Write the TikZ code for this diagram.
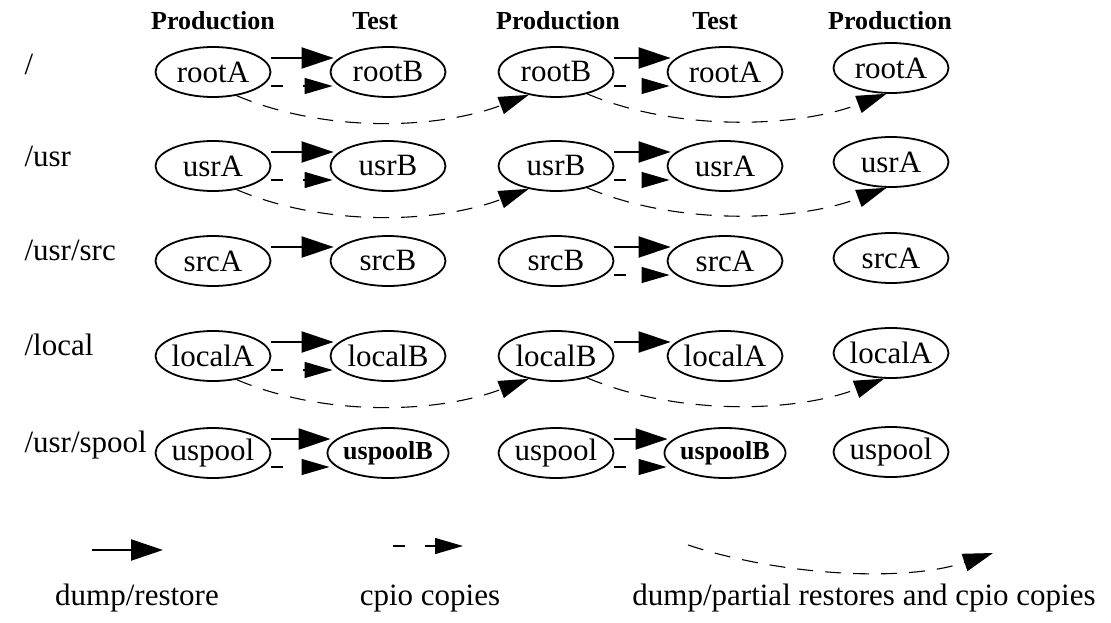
\documentclass[tikz,border=0pt]{standalone}
\usepackage{fontspec}
\setmainfont{Liberation Serif}
\usetikzlibrary{arrows.meta,shapes.geometric}

\tikzset{
  fsnode/.style={ellipse,draw,line width=1.8pt,minimum width=115pt,minimum height=50pt,inner xsep=-2pt,inner ysep=0pt,font=\fontsize{31}{31}\selectfont},
  fsbold/.style={fsnode,font=\fontsize{26}{26}\selectfont\bfseries},
  colhead/.style={font=\fontsize{26}{26}\selectfont\bfseries,anchor=base},
  rowlabel/.style={font=\fontsize{31}{31}\selectfont,anchor=base west},
  legtext/.style={font=\fontsize{31}{31}\selectfont,anchor=base},
  dumprestore/.style={line width=2.2pt,-{Triangle[length=32pt,width=21pt]}},
  cpiocopy/.style={line width=1.1pt,dash pattern=on 12pt off 20pt,-{Triangle[length=28pt,width=16pt]}},
  partial/.style={line width=1.1pt,dash pattern=on 16pt off 12pt,-{Triangle[length=30pt,width=18pt]}},
}

\begin{document}
\begin{tikzpicture}[x=1pt,y=-1pt]
		\useasboundingbox (0,0) rectangle (1111,623);
		% column heads
		\node[colhead] (h1) at (213,30) {Production};
		\node[colhead] (h2) at (375,30) {Test};
		\node[colhead] (h3) at (558,30) {Production};
		\node[colhead] (h4) at (715,30) {Test};
		\node[colhead] (h5) at (890,30) {Production};
		% file systems
		\node[rowlabel] (lroot) at (21,75) {/};
		\node[rowlabel] (lusr) at (21,166) {/usr};
		\node[rowlabel] (lsrc) at (21,260) {/usr/src};
		\node[rowlabel] (llocal) at (21,355) {/local};
		\node[rowlabel] (lspool) at (21,452) {/usr/spool};
		% /
		\node[fsnode] (root1) at (213,72) {rootA};
		\node[fsnode] (root2) at (388,72) {rootB};
		\node[fsnode] (root3) at (556,72) {rootB};
		\node[fsnode] (root4) at (725,72) {rootA};
		\node[fsnode] (root5) at (891,68) {rootA};
		% /usr
		\node[fsnode] (usr1) at (213,166) {usrA};
		\node[fsnode] (usr2) at (388,166) {usrB};
		\node[fsnode] (usr3) at (556,166) {usrB};
		\node[fsnode] (usr4) at (725,166) {usrA};
		\node[fsnode] (usr5) at (891,162) {usrA};
		% /usr/src
		\node[fsnode] (src1) at (213,261) {srcA};
		\node[fsnode] (src2) at (388,261) {srcB};
		\node[fsnode] (src3) at (556,261) {srcB};
		\node[fsnode] (src4) at (725,261) {srcA};
		\node[fsnode] (src5) at (891,258) {srcA};
		% /local
		\node[fsnode] (local1) at (213,356) {localA};
		\node[fsnode] (local2) at (388,356) {localB};
		\node[fsnode] (local3) at (556,356) {localB};
		\node[fsnode] (local4) at (725,356) {localA};
		\node[fsnode] (local5) at (891,353) {localA};
		% /usr/spool
		\node[fsnode] (spool1) at (213,453) {uspool};
		\node[fsbold] (spool2) at (388,453) {uspoolB};
		\node[fsnode] (spool3) at (556,453) {uspool};
		\node[fsbold] (spool4) at (725,453) {uspoolB};
		\node[fsnode] (spool5) at (891,452) {uspool};
		% dump/restore
		\draw[dumprestore] ([yshift=14pt]root1.east) -- ([yshift=14pt,xshift=4pt]root2.west);
		\draw[dumprestore] ([yshift=14pt]root3.east) -- ([yshift=14pt,xshift=4pt]root4.west);
		\draw[dumprestore] ([yshift=14pt]usr1.east) -- ([yshift=14pt,xshift=4pt]usr2.west);
		\draw[dumprestore] ([yshift=14pt]usr3.east) -- ([yshift=14pt,xshift=4pt]usr4.west);
		\draw[dumprestore] ([yshift=14pt]src1.east) -- ([yshift=14pt,xshift=4pt]src2.west);
		\draw[dumprestore] ([yshift=14pt]src3.east) -- ([yshift=14pt,xshift=4pt]src4.west);
		\draw[dumprestore] ([yshift=14pt]local1.east) -- ([yshift=14pt,xshift=4pt]local2.west);
		\draw[dumprestore] ([yshift=14pt]local3.east) -- ([yshift=14pt,xshift=4pt]local4.west);
		\draw[dumprestore] ([yshift=14pt]spool1.east) -- ([yshift=14pt,xshift=4pt]spool2.west);
		\draw[dumprestore] ([yshift=14pt]spool3.east) -- ([yshift=14pt,xshift=4pt]spool4.west);
		% cpio copies
		\draw[cpiocopy] ([yshift=-14pt]root1.east) -- ([yshift=-14pt,xshift=3pt]root2.west);
		\draw[cpiocopy] ([yshift=-14pt]root3.east) -- ([yshift=-14pt,xshift=3pt]root4.west);
		\draw[cpiocopy] ([yshift=-14pt]usr1.east) -- ([yshift=-14pt,xshift=3pt]usr2.west);
		\draw[cpiocopy] ([yshift=-14pt]usr3.east) -- ([yshift=-14pt,xshift=3pt]usr4.west);
		\draw[cpiocopy] ([yshift=-14pt]src3.east) -- ([yshift=-14pt,xshift=3pt]src4.west);
		\draw[cpiocopy] ([yshift=-14pt]local1.east) -- ([yshift=-14pt,xshift=3pt]local2.west);
		\draw[cpiocopy] ([yshift=-14pt]spool1.east) -- ([yshift=-14pt,xshift=3pt]spool2.west);
		\draw[cpiocopy] ([yshift=-14pt]spool3.east) -- ([yshift=-14pt,xshift=3pt]spool4.west);
		% dump/partial restores and cpio copies
		\draw[partial] (root1.-45) .. controls +(90,38) and +(-90,34) .. (root3.-140);
		\draw[partial] (root3.-35) .. controls +(90,38) and +(-90,34) .. (root5.-100);
		\draw[partial] (usr1.-45) .. controls +(90,38) and +(-90,34) .. (usr3.-140);
		\draw[partial] (usr3.-35) .. controls +(90,38) and +(-90,34) .. (usr5.-100);
		\draw[partial] (local1.-45) .. controls +(90,38) and +(-90,34) .. (local3.-140);
		\draw[partial] (local3.-35) .. controls +(90,38) and +(-90,34) .. (local5.-105);
		% legend
		\coordinate (dr1) at (92,550);
		\coordinate (dr2) at (163,550);
		\draw[dumprestore] (dr1) -- (dr2);
		\node[legtext] (drtext) at (137,605) {dump/restore};
		\coordinate (cp1) at (393,546);
		\coordinate (cp2) at (463,546);
		\draw[cpiocopy] (cp1) -- (cp2);
		\node[legtext] (cptext) at (430,605) {cpio copies};
		\coordinate (pr1) at (688,545);
		\coordinate (pr2) at (993,553);
		\draw[partial] (pr1) .. controls +(90,30) and +(-90,30) .. (pr2);
		\node[legtext] (prtext) at (864,605) {dump/partial restores and cpio copies};
	\end{tikzpicture}
\end{document}
